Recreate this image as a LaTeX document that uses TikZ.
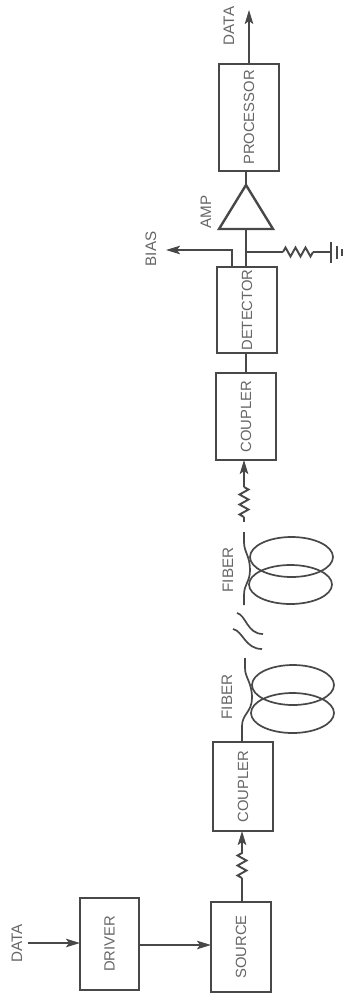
\documentclass[tikz,border=0pt]{standalone}
\usepackage{fontspec}
\usepackage{graphicx}
\setmainfont{Liberation Sans}
\usetikzlibrary{arrows.meta,decorations.pathmorphing}
\definecolor{ink}{HTML}{484848}
\definecolor{txt}{HTML}{666666}
\newcommand{\vtext}[1]{\rotatebox{90}{#1}}
\newcommand{\btext}[1]{\rotatebox{90}{#1}\hspace{3pt}}
\tikzset{
  x=1pt,y=-1pt,
  wire/.style={draw=ink,line width=1.9pt},
  blk/.style={draw=ink,line width=2.5pt,minimum width=60pt,inner sep=0pt,text=txt,font=\fontsize{14.8}{17}\selectfont},
  lbl/.style={text=txt,inner sep=0pt,font=\fontsize{15.2}{17}\selectfont},
  arr/.style={wire,-{Stealth[length=14pt,width=8.5pt,inset=3pt]}},
  res/.style={wire,decorate,decoration={zigzag,segment length=10pt,amplitude=4.5pt}},
  coil/.style={draw=ink,line width=1.7pt},
}
\begin{document}
\begin{tikzpicture}
\useasboundingbox (0,0) rectangle (345,998);
% boxes
\node[blk,minimum width=59pt,minimum height=92pt] (driver) at (109.5,944) {\btext{DRIVER}};
\node[blk,minimum height=90pt] (source) at (241,947) {\btext{SOURCE}};
\node[blk,minimum height=89pt] (couplerA) at (243,786.5) {\btext{COUPLER}};
\node[blk,minimum height=87pt] (couplerB) at (246,416.5) {\btext{COUPLER}};
\node[blk,minimum height=86pt] (detector) at (247,310) {\btext{DETECTOR}};
\node[blk,minimum height=107pt] (processor) at (249,117.5) {\btext{PROCESSOR}};
% labels
\node[lbl] (dataIn) at (17,943) {\vtext{DATA}};
\node[lbl] (dataOut) at (229,26) {\vtext{DATA}};
\node[lbl] (bias) at (151,249) {\vtext{BIAS}};
\node[lbl] (amp) at (206,212) {\vtext{AMP}};
\node[lbl] (fiberA) at (227,697) {\vtext{FIBER}};
\node[lbl] (fiberB) at (228,570) {\vtext{FIBER}};
% free coordinates
\coordinate (inStart) at (28,943);
\coordinate (inEnd) at (80,943);
\coordinate (drvOut) at (139,945);
\coordinate (srcIn) at (211,945);
\coordinate (srcOut) at (242,902);
\coordinate (resAa) at (242,878);
\coordinate (resAb) at (242,850);
\coordinate (cplAin) at (242,831);
\coordinate (cplAout) at (242,742);
\coordinate (fibAend) at (245,658);
\coordinate (fibBstart) at (244,605);
\coordinate (fibBend) at (244,532);
\coordinate (resBstart) at (244,522);
\coordinate (resBa) at (244,517);
\coordinate (resBb) at (244,487);
\coordinate (cplBin) at (244,460);
\coordinate (cplBout) at (246,373);
\coordinate (detIn) at (246,353);
\coordinate (detOut) at (246,267);
\coordinate (ampBaseMid) at (246,229);
\coordinate (ampL) at (219,229);
\coordinate (ampR) at (273,229);
\coordinate (ampTip) at (246,185);
\coordinate (procIn) at (246,171);
\coordinate (procOut) at (249,64);
\coordinate (outEnd) at (249,10);
\coordinate (biasOut) at (232,267);
\coordinate (biasBend) at (232,250);
\coordinate (biasEnd) at (166,250);
\coordinate (tap) at (246,252);
\coordinate (resCa) at (283,252);
\coordinate (resCb) at (313,252);
\coordinate (gnd) at (331,252);
% signal path
\draw[arr] (inStart) -- (inEnd);
\draw[arr] (drvOut) -- (srcIn);
\draw[wire] (srcOut) -- (resAa);
\draw[res] (resAa) -- (resAb);
\draw[arr] (resAb) -- (cplAin);
\draw[wire] (resBstart) -- (resBa);
\draw[res] (resBa) -- (resBb);
\draw[arr] (resBb) -- (cplBin);
\draw[wire] (cplBout) -- (detIn);
\draw[wire] (detOut) -- (ampBaseMid);
\draw[wire,line width=2.4pt,line join=miter] (ampL) -- (ampR) -- (ampTip) -- cycle;
\draw[wire] (ampTip) -- (procIn);
\draw[arr] (procOut) -- (outEnd);
\draw[arr] (biasOut) -- (biasBend) -- (biasEnd);
% load to ground
\draw[wire] (tap) -- (resCa);
\draw[res] (resCa) -- (resCb);
\draw[wire] (resCb) -- (gnd);
\draw[wire,line width=2.2pt] (331,242) -- (331,263);
\draw[wire] (337,246) -- (337,259);
\draw[wire] (342,249) -- (342,256);
% fibre A
\draw[coil] (293,685) ellipse [x radius=41,y radius=20];
\draw[coil] (292.5,713) ellipse [x radius=41.5,y radius=20];
\draw[coil] (cplAout) -- (242,726) .. controls (242,714) and (252,712) .. (252,698) .. controls (252,682) and (245,678) .. (245,668) -- (fibAend);
% fibre B
\draw[coil] (291.5,557) ellipse [x radius=41.5,y radius=20];
\draw[coil] (290.5,584.5) ellipse [x radius=41.5,y radius=19.5];
\draw[coil] (fibBstart) -- (244,595) .. controls (244,584) and (250,582) .. (250,570) .. controls (250,556) and (244,552) .. (244,542) -- (fibBend);
% break
\draw[coil] (237,613) .. controls (246,615) and (247,634) .. (263,634);
\draw[coil] (233,629) .. controls (243,631) and (245,649) .. (262,649);
\end{tikzpicture}
\end{document}
